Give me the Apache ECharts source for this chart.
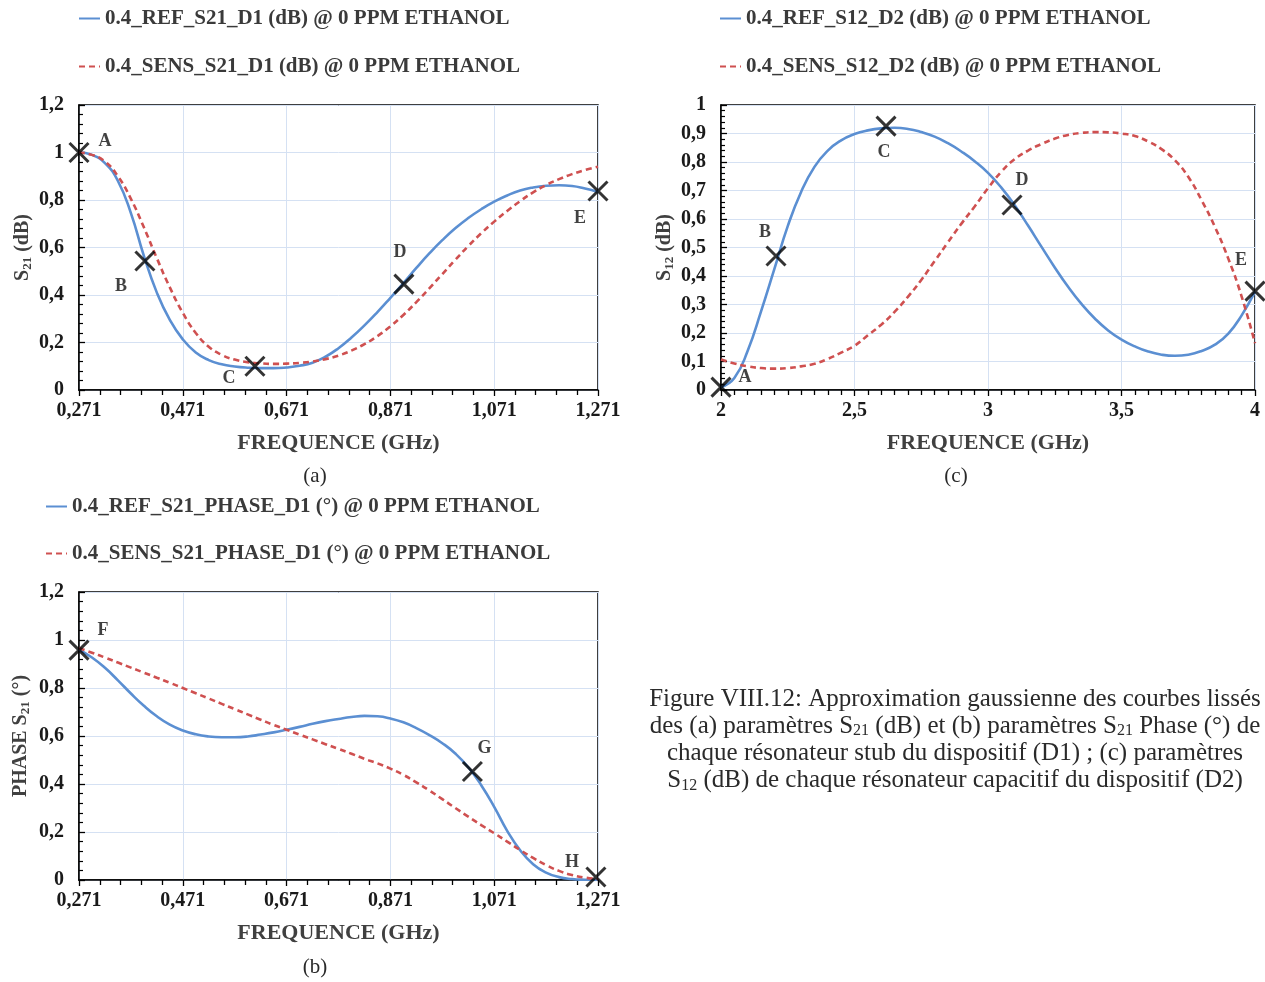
<!DOCTYPE html>
<html>
<head>
<meta charset="utf-8">
<script src="https://cdn.jsdelivr.net/npm/echarts@6/dist/echarts.min.js"></script>
<style>
html,body{margin:0;padding:0;background:#fff;}
#chart{width:1265px;height:982px;}
</style>
</head>
<body>
<div id="chart"></div>
<script>
// ---------- DATA ----------
const freqD1 = [0.271,0.296,0.321,0.346,0.371,0.396,0.421,0.446,0.471,0.496,0.521,0.546,0.571,0.596,0.621,0.646,0.671,0.696,0.721,0.746,0.771,0.796,0.821,0.846,0.871,0.896,0.921,0.946,0.971,0.996,1.021,1.046,1.071,1.096,1.121,1.146,1.171,1.196,1.221,1.246,1.271];
const refS21  = [1.000,0.990,0.955,0.880,0.745,0.565,0.410,0.295,0.213,0.158,0.126,0.108,0.099,0.094,0.092,0.092,0.095,0.102,0.115,0.140,0.176,0.221,0.272,0.328,0.388,0.450,0.514,0.575,0.631,0.681,0.724,0.761,0.793,0.819,0.840,0.853,0.860,0.862,0.859,0.848,0.834];
const sensS21 = [1.000,0.990,0.962,0.900,0.805,0.685,0.555,0.432,0.325,0.240,0.182,0.148,0.128,0.117,0.112,0.110,0.111,0.114,0.120,0.130,0.145,0.166,0.193,0.227,0.268,0.316,0.370,0.428,0.488,0.548,0.606,0.660,0.709,0.754,0.795,0.832,0.863,0.888,0.909,0.926,0.940];

const refPhase  = [0.960,0.927,0.884,0.832,0.777,0.726,0.682,0.647,0.623,0.607,0.598,0.595,0.595,0.598,0.606,0.615,0.626,0.638,0.651,0.662,0.671,0.679,0.684,0.682,0.673,0.657,0.633,0.604,0.570,0.527,0.470,0.395,0.305,0.205,0.124,0.066,0.031,0.012,0.004,0.001,0.000];
const sensPhase = [0.966,0.947,0.927,0.906,0.885,0.864,0.843,0.822,0.800,0.778,0.756,0.734,0.712,0.690,0.668,0.646,0.626,0.606,0.586,0.566,0.546,0.526,0.505,0.486,0.464,0.438,0.407,0.373,0.337,0.300,0.264,0.229,0.195,0.160,0.125,0.092,0.062,0.038,0.021,0.010,0.004];

const freqD2  = [2.00,2.05,2.10,2.15,2.20,2.25,2.30,2.35,2.40,2.45,2.50,2.55,2.60,2.65,2.70,2.75,2.80,2.85,2.90,2.95,3.00,3.05,3.10,3.15,3.20,3.25,3.30,3.35,3.40,3.45,3.50,3.55,3.60,3.65,3.70,3.75,3.80,3.85,3.90,3.95,4.00];
const refS12  = [0.010,0.042,0.138,0.276,0.425,0.575,0.695,0.783,0.840,0.876,0.898,0.911,0.918,0.920,0.916,0.905,0.889,0.866,0.837,0.803,0.762,0.710,0.648,0.577,0.503,0.430,0.362,0.302,0.251,0.209,0.177,0.153,0.135,0.124,0.120,0.124,0.137,0.159,0.198,0.262,0.345];
const sensS12 = [0.107,0.093,0.083,0.077,0.075,0.077,0.083,0.092,0.109,0.131,0.155,0.192,0.229,0.274,0.327,0.386,0.452,0.518,0.583,0.644,0.708,0.766,0.810,0.840,0.863,0.882,0.895,0.902,0.905,0.904,0.900,0.891,0.872,0.845,0.806,0.748,0.666,0.572,0.461,0.328,0.164];

const marksS21Names = ['A','B','C','D','E'];
const marksS21X = [0.271,0.398,0.610,0.897,1.271];
const marksS21Y = [1.000,0.543,0.100,0.446,0.838];

const marksPhaseNames = ['F','G','H'];
const marksPhaseX = [0.271,1.029,1.267];
const marksPhaseY = [0.958,0.452,0.0125];

const marksS12Names = ['A','B','C','D','E'];
const marksS12X = [2.000,2.206,2.618,3.090,4.000];
const marksS12Y = [0.010,0.470,0.926,0.649,0.347];

const legendA = ['0.4_REF_S21_D1 (dB) @ 0 PPM ETHANOL','0.4_SENS_S21_D1 (dB) @ 0 PPM ETHANOL'];
const legendB = ['0.4_REF_S21_PHASE_D1 (°) @ 0 PPM ETHANOL','0.4_SENS_S21_PHASE_D1 (°) @ 0 PPM ETHANOL'];
const legendC = ['0.4_REF_S12_D2 (dB) @ 0 PPM ETHANOL','0.4_SENS_S12_D2 (dB) @ 0 PPM ETHANOL'];

const xTitle = 'FREQUENCE (GHz)';
const yTitleA = '{b|S}{s|21}{b| (dB)}';
const yTitleC = '{b|S}{s|12}{b| (dB)}';
const yTitleB = '{b|PHASE S}{s|21}{b| (°)}';
const panelTags = ['(a)','(c)','(b)'];
const captionLines = [
  'Figure VIII.12: Approximation gaussienne des courbes lissés',
  'des (a) paramètres S{sub|21} (dB) et (b) paramètres S{sub|21} Phase (°) de',
  'chaque résonateur stub du dispositif (D1) ; (c) paramètres',
  'S{sub|12} (dB) de chaque résonateur capacitif du dispositif (D2)'
];

// ---------- STYLE ----------
const SERIF = '"Liberation Serif", "Times New Roman", serif';
const BLUE = '#5B8FD2';
const RED = '#CF5050';
const GRIDLINE = '#D5E1F3';
const labelOffsets = {
  s21: {A:[26,-11],B:[-24,25],C:[-26,12],D:[-4,-32],E:[-18,27]},
  s12: {A:[24,-10],B:[-11,-24],C:[-2,26],D:[10,-25],E:[-14,-31]},
  ph:  {F:[24,-20],G:[12,-23],H:[-24,-15]}
};
const crossPath = 'path://M0,0L20,20M20,0L0,20';

function zip(x,y){ return x.map((v,i)=>[v,y[i]]); }
function comma(v,d){ return String(+v.toFixed(d)).replace('.',','); }

const tickLabelStyle = {color:'#1a1a1a',fontFamily:SERIF,fontWeight:'bold',fontSize:20};
const axisNameStyle = {color:'#404040',fontFamily:SERIF,fontWeight:'bold',fontSize:22};

function xAxisD1(gi){
  return {
    gridIndex: gi, type:'value', min:0.271, max:1.271, interval:0.2,
    axisLine:{show:true,lineStyle:{color:'#000',width:1.5}},
    axisTick:{show:true,inside:false,length:6,lineStyle:{color:'#000',width:1.3}},
    minorTick:{show:true,splitNumber:5,length:5,lineStyle:{color:'#000',width:1.3}},
    axisLabel:Object.assign({formatter:v=>v.toFixed(3).replace('.',','),margin:11},tickLabelStyle),
    splitLine:{show:true,lineStyle:{color:GRIDLINE,width:1}},
    name:xTitle,nameLocation:'middle',nameGap:42,
    nameTextStyle:axisNameStyle
  };
}
function yAxisCommon(gi,min,max,interval,name,gap){
  return {
    gridIndex: gi, type:'value', min:min, max:max, interval:interval,
    axisLine:{show:true,lineStyle:{color:'#000',width:1.5}},
    axisTick:{show:true,inside:true,length:6,lineStyle:{color:'#000',width:1.3}},
    minorTick:{show:true,splitNumber:5,length:4,lineStyle:{color:'#000',width:1.2}},
    axisLabel:Object.assign({formatter:v=>comma(v,1),margin:15},tickLabelStyle),
    splitLine:{show:true,lineStyle:{color:GRIDLINE,width:1}},
    name:name,nameLocation:'middle',nameGap:gap,
    nameTextStyle:{color:'#404040',fontFamily:SERIF,fontWeight:'bold',fontSize:20,
      rich:{b:{fontFamily:SERIF,fontWeight:'bold',fontSize:20,color:'#404040',lineHeight:23},
            s:{fontFamily:SERIF,fontWeight:'bold',fontSize:13,color:'#404040',lineHeight:13,verticalAlign:'bottom'}}}
  };
}
function lineSeries(name,gi,x,y,color,dashed){
  return {type:'line',name:name,xAxisIndex:gi,yAxisIndex:gi,data:zip(x,y),smooth:0.5,symbol:'none',
    lineStyle:{color:color,width:2.6,type:dashed?[6,4]:'solid'},itemStyle:{color:color},z:3};
}
function markSeries(gi,names,x,y,offs){
  return {type:'scatter',xAxisIndex:gi,yAxisIndex:gi,clip:false,z:5,
    symbol:crossPath,symbolSize:19,
    itemStyle:{color:'rgba(0,0,0,0)',borderColor:'#000',borderWidth:3},
    data:names.map((n,i)=>({name:n,value:[x[i],y[i]],label:{offset:offs[n]}})),
    label:{show:true,position:'inside',formatter:p=>p.name,color:'#111',fontFamily:SERIF,fontWeight:'bold',fontSize:18},
    emphasis:{disabled:true}
  };
}
function legend(left,top,gap,data){
  return {left:left,top:top,padding:0,orient:'vertical',itemGap:gap,itemWidth:21,itemHeight:14,data:data,
    itemStyle:{opacity:0},
    textStyle:{color:'#3a3a3a',fontFamily:SERIF,fontWeight:'bold',fontSize:21,lineHeight:21}};
}

const captionGraphics = captionLines.map((t,i)=>({
  type:'text', x:955, y:699+i*27.3,
  style:{text:t,textAlign:'center',textVerticalAlign:'middle',fill:'#2a2a2a',
    font:'25px '+SERIF,
    rich:{sub:{fontSize:16,fontFamily:SERIF,fill:'#2a2a2a',verticalAlign:'bottom',lineHeight:14}}}
}));
const tagPos = [[315,476],[956,476],[315,967]];
const tagGraphics = panelTags.map((t,i)=>({type:'text',x:tagPos[i][0],y:tagPos[i][1],
  style:{text:t,textAlign:'center',textVerticalAlign:'middle',font:'21px '+SERIF,fill:'#2a2a2a'}}));

const option = {
  animation:false,
  backgroundColor:'#fff',
  grid:[
    {left:79,top:105,width:519,height:285,show:true,borderColor:'#000',borderWidth:1.5,containLabel:false},
    {left:721,top:105,width:534,height:285,show:true,borderColor:'#000',borderWidth:1.5,containLabel:false},
    {left:79,top:592,width:519,height:288,show:true,borderColor:'#000',borderWidth:1.5,containLabel:false}
  ],
  legend:[ legend(78,8,27,legendA), legend(719,8,27,legendC), legend(45,496,26,legendB) ],
  xAxis:[
    xAxisD1(0),
    {gridIndex:1,type:'value',min:2,max:4,interval:0.5,
      axisLine:{show:true,lineStyle:{color:'#000',width:1.5}},
      axisTick:{show:true,inside:false,length:6,lineStyle:{color:'#000',width:1.3}},
      minorTick:{show:true,splitNumber:10,length:5,lineStyle:{color:'#000',width:1.3}},
      axisLabel:Object.assign({formatter:v=>comma(v,1),margin:11},tickLabelStyle),
      splitLine:{show:true,lineStyle:{color:GRIDLINE,width:1}},
      name:xTitle,nameLocation:'middle',nameGap:42,
      nameTextStyle:axisNameStyle},
    xAxisD1(2)
  ],
  yAxis:[
    yAxisCommon(0,0,1.2,0.2,yTitleA,45),
    yAxisCommon(1,0,1,0.1,yTitleC,45),
    yAxisCommon(2,0,1.2,0.2,yTitleB,47)
  ],
  series:[
    lineSeries(legendA[0],0,freqD1,refS21,BLUE,false),
    lineSeries(legendA[1],0,freqD1,sensS21,RED,true),
    markSeries(0,marksS21Names,marksS21X,marksS21Y,labelOffsets.s21),
    lineSeries(legendC[0],1,freqD2,refS12,BLUE,false),
    lineSeries(legendC[1],1,freqD2,sensS12,RED,true),
    markSeries(1,marksS12Names,marksS12X,marksS12Y,labelOffsets.s12),
    lineSeries(legendB[0],2,freqD1,refPhase,BLUE,false),
    lineSeries(legendB[1],2,freqD1,sensPhase,RED,true),
    markSeries(2,marksPhaseNames,marksPhaseX,marksPhaseY,labelOffsets.ph)
  ],
  graphic: tagGraphics.concat(captionGraphics)
};

const chart = echarts.init(document.getElementById('chart'),null,{renderer:'canvas'});
chart.setOption(option);
</script>
</body>
</html>
